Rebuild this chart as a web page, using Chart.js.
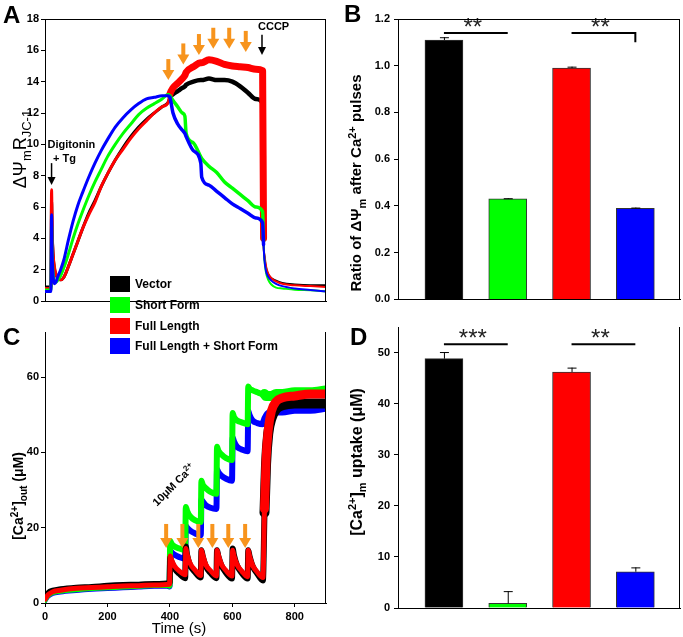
<!DOCTYPE html>
<html>
<head>
<meta charset="utf-8">
<script src="https://cdn.jsdelivr.net/npm/chart.js@4.4.1/dist/chart.umd.min.js"></script>
<style>
body { margin: 0; background: #fff; width: 683px; height: 637px; overflow: hidden; position: relative; }
canvas { position: absolute; display: block; }
#legend { position: absolute; left: 110px; top: 274px; font: bold 12px "Liberation Sans", Arial, sans-serif; color: #000; z-index: 5; }
#legend .row { height: 20.7px; display: flex; align-items: center; white-space: nowrap; }
#legend .sw { width: 20px; height: 16px; margin-right: 5px; }
</style>
</head>
<body>
<canvas id="chartA" width="340" height="310" style="left:0;top:0"></canvas>
<canvas id="chartB" width="343" height="310" style="left:340px;top:0"></canvas>
<canvas id="chartC" width="340" height="327" style="left:0;top:310px"></canvas>
<canvas id="chartD" width="343" height="327" style="left:340px;top:310px"></canvas>
<div id="legend"></div>
<script>
// groups / colours shared by all four panels
const groups = ["Vector", "Short Form", "Full Length", "Full Length + Short Form"];
const colors = ["#000000", "#00FF00", "#FF0000", "#0000FF"];

// panel A : delta psi_m (R JC-1) vs time
const timeA = [0, 10, 19, 21, 23, 26, 30, 35, 40, 50, 60, 75, 90, 105, 120, 140, 160, 180, 200, 225,
  250, 275, 300, 325, 350, 375, 395, 400, 410, 425, 440, 448, 452, 475, 499, 502, 525, 550, 575, 600,
  625, 650, 675, 697, 700, 703, 708, 715, 725, 740, 760, 800, 850, 900];
const vectorA = [0.9, 0.9, 0.9, 6.5, 4.3, 2.9, 2.1, 1.7, 1.5, 1.35, 1.5, 2.2, 3.0, 3.8, 4.6, 5.6, 6.4, 7.3, 8.1, 9.0,
  9.8, 10.5, 11.1, 11.6, 12.0, 12.4, 12.7, 13.0, 13.2, 13.4, 13.6, 13.7, 13.8, 14.0, 14.1, 14.1, 14.2, 14.1, 14.1, 14.0,
  13.7, 13.3, 12.9, 12.6, 4.0, 2.8, 2.1, 1.7, 1.45, 1.3, 1.15, 1.05, 1.0, 1.0];
const shortA = [0.7, 0.7, 0.7, 5.0, 3.0, 1.8, 1.3, 1.2, 1.3, 1.6, 2.1, 3.0, 4.0, 4.9, 5.7, 6.7, 7.6, 8.4, 9.2, 10.0,
  10.7, 11.3, 11.9, 12.3, 12.6, 12.9, 13.2, 13.1, 12.8, 12.4, 12.0, 11.8, 10.7, 10.1, 9.2, 9.1, 8.6, 8.2, 7.6, 7.2,
  6.8, 6.4, 6.0, 5.7, 3.8, 2.6, 1.8, 1.35, 1.05, 0.85, 0.8, 0.72, 0.68, 0.62];
const fullA = [0.8, 0.8, 0.8, 7.1, 4.5, 3.0, 2.2, 1.7, 1.5, 1.35, 1.5, 2.2, 3.0, 3.8, 4.6, 5.5, 6.3, 7.3, 8.1, 9.0,
  9.7, 10.4, 11.0, 11.5, 12.0, 12.4, 12.7, 13.2, 13.6, 13.9, 14.2, 14.4, 14.6, 14.95, 15.2, 15.2, 15.4, 15.3, 15.1, 15.0,
  14.95, 14.9, 14.8, 14.7, 4.0, 2.9, 2.2, 1.75, 1.45, 1.25, 1.1, 1.0, 0.95, 0.9];
const bothA = [0.6, 0.6, 0.6, 5.5, 3.0, 1.6, 1.1, 1.2, 1.5, 2.0, 2.6, 3.9, 5.1, 6.1, 6.9, 7.9, 8.8, 9.6, 10.3, 11.1,
  11.7, 12.2, 12.6, 12.9, 13.0, 13.1, 13.1, 13.0, 12.0, 11.3, 10.9, 10.7, 10.5, 9.6, 8.8, 7.9, 7.4, 7.0, 6.6, 6.2,
  5.9, 5.6, 5.3, 5.0, 3.6, 2.6, 1.9, 1.55, 1.3, 1.1, 0.95, 0.8, 0.7, 0.6];

// panel B : ratio of delta psi_m after Ca pulses
const ratioB = [1.11, 0.43, 0.99, 0.39];
const ratioErrB = [0.012, 0.003, 0.006, 0.003];

// panel C : [Ca2+]out (uM) vs time
const timeC = [0, 10, 25, 50, 100, 150, 200, 250, 300, 350, 399,
  401, 405, 415, 430, 449, 451, 455, 465, 480, 499, 501, 505, 515, 530, 549,
  551, 555, 565, 580, 599, 601, 605, 615, 630, 649, 651, 655, 665, 680, 698,
  703, 708, 715, 725, 740, 760, 800, 850, 900];
const vectorC = [1.5, 2.8, 3.4, 3.8, 4.2, 4.4, 4.7, 4.9, 5.0, 5.2, 5.4,
  12.0, 11.0, 9.2, 7.8, 6.6, 15.0, 12.8, 10.0, 8.3, 6.8, 14.0, 12.5, 9.8, 8.0, 6.6,
  14.0, 12.5, 10.0, 8.0, 6.5, 14.5, 12.8, 10.0, 8.0, 6.5, 14.0, 12.5, 9.8, 7.8, 6.0,
  24, 37, 45, 49, 51.5, 52.5, 53, 53, 53];
const shortC = [0.5, 1.8, 2.6, 3.0, 3.4, 3.7, 3.9, 4.1, 4.3, 4.5, 4.6,
  16.5, 15.8, 15.0, 14.5, 14.0, 25.5, 24.5, 23.0, 22.0, 21.5, 32.5, 31.5, 30.5, 29.5, 29.0,
  41.5, 40.5, 39.5, 38.5, 38.0, 50.5, 49.5, 48.5, 48.0, 47.5, 57.5, 57.0, 56.5, 56.0, 55.5,
  55.5, 55, 55, 55, 55.5, 55.5, 56, 56, 56.5];
const fullC = [1.0, 2.2, 3.0, 3.4, 3.9, 4.1, 4.3, 4.5, 4.6, 4.8, 5.0,
  12.5, 11.5, 9.8, 8.5, 7.5, 14.5, 13.0, 10.5, 8.8, 7.3, 14.0, 12.8, 10.2, 8.6, 7.2,
  14.0, 12.8, 10.3, 8.6, 7.2, 14.0, 12.6, 10.2, 8.5, 7.0, 14.0, 12.5, 10.0, 8.2, 6.8,
  25, 38, 46, 51, 53.5, 54.5, 55, 55.5, 55.5];
const bothC = [0.4, 1.6, 2.4, 2.8, 3.2, 3.5, 3.7, 3.9, 4.1, 4.3, 4.4,
  14.0, 13.5, 12.8, 12.2, 11.8, 20.5, 20.0, 19.2, 18.5, 18.0, 27.5, 27.0, 26.0, 25.3, 25.0,
  35.5, 34.8, 33.8, 33.0, 32.5, 44.0, 43.0, 41.5, 40.8, 40.3, 51.0, 50.0, 48.5, 47.8, 47.5,
  48, 49, 50, 50.5, 51, 51, 51.5, 51.5, 52];

// panel D : [Ca2+]m uptake (uM)
const uptakeD = [48.8, 0.9, 46.2, 7.1];
const uptakeErrD = [1.3, 2.4, 0.85, 0.85];

const FONT = '"Liberation Sans", Arial, sans-serif';
function font(size, weight) { return (weight || 'normal') + ' ' + size + 'px ' + FONT; }
const tickFont = { family: FONT, size: 11, weight: 'bold' };

// draws text with sub/superscripts, (x,y) = centre of the main text
function drawRich(ctx, parts, x, y, rot, size, weight, align) {
  const small = Math.round(size * 0.7);
  ctx.save();
  ctx.translate(x, y);
  ctx.rotate(rot);
  let w = 0;
  parts.forEach(p => {
    ctx.font = font(p.s ? small : size, weight);
    p.w = ctx.measureText(p.t).width;
    w += p.w;
  });
  let cx = align === 'left' ? 0 : -w / 2;
  const base = align === 'left' ? 0 : size * 0.36;
  ctx.fillStyle = '#000';
  ctx.textBaseline = 'alphabetic';
  ctx.textAlign = 'left';
  parts.forEach(p => {
    ctx.font = font(p.s ? small : size, weight);
    const dy = p.s === 'sub' ? size * 0.28 : p.s === 'sup' ? -size * 0.38 : 0;
    ctx.fillText(p.t, cx, base + dy);
    cx += p.w;
  });
  ctx.restore();
}

function arrow(ctx, x, yTop, yTip, color, shaft, headW, headL) {
  ctx.save();
  ctx.fillStyle = color;
  ctx.strokeStyle = color;
  ctx.lineWidth = shaft;
  ctx.beginPath();
  ctx.moveTo(x, yTop);
  ctx.lineTo(x, yTip - headL + 1);
  ctx.stroke();
  ctx.beginPath();
  ctx.moveTo(x - headW / 2, yTip - headL);
  ctx.lineTo(x + headW / 2, yTip - headL);
  ctx.lineTo(x, yTip);
  ctx.closePath();
  ctx.fill();
  ctx.restore();
}

// box lines that SigmaPlot draws on top / right
const framePlugin = {
  id: 'frame',
  afterDraw(chart, args, opts) {
    const { ctx, chartArea: a } = chart;
    ctx.save();
    ctx.strokeStyle = '#000';
    ctx.lineWidth = 1;
    ctx.beginPath();
    if (opts.top) { ctx.moveTo(a.left, a.top + 0.5); ctx.lineTo(a.right, a.top + 0.5); }
    ctx.moveTo(a.right - 0.5, a.top); ctx.lineTo(a.right - 0.5, a.bottom);
    ctx.stroke();
    ctx.restore();
  }
};

// axis titles and panel letter
const labelPlugin = {
  id: 'labels',
  afterDraw(chart, args, opts) {
    const ctx = chart.ctx;
    (opts.items || []).forEach(it => drawRich(ctx, it.parts, it.x, it.y, it.rot || 0, it.size, it.weight));
    if (opts.letter) {
      ctx.save();
      ctx.font = font(24, 'bold');
      ctx.fillStyle = '#000';
      ctx.fillText(opts.letter.t, opts.letter.x, opts.letter.y);
      ctx.restore();
    }
  }
};

// noise band of the raw traces is imitated with a wider stroke
function band(w) {
  return c => {
    const t = c.p0.parsed.x;
    return t < 399 ? w[0] : (t < 699 ? w[1] : w[2]);
  };
}

function traces(time, series, widths, order) {
  return series.map((vals, i) => ({
    label: groups[i],
    data: time.map((t, k) => ({ x: t, y: vals[k] })),
    borderColor: colors[i],
    borderWidth: widths[i][0],
    segment: { borderWidth: band(widths[i]) },
    pointRadius: 0,
    fill: false,
    cubicInterpolationMode: 'monotone',
    borderJoinStyle: 'round',
    borderCapStyle: 'round',
    order: order[i]
  }));
}

const baseOpts = {
  responsive: false,
  animation: false,
  devicePixelRatio: 1,
  events: []
};

// ---------- panel A ----------
const pulseA = { t: [395, 443, 493, 539, 590, 643], tip: [14.1, 15.1, 15.7, 16.1, 16.1, 15.9] };
new Chart(document.getElementById('chartA'), {
  type: 'line',
  data: { datasets: traces(timeA, [vectorA, shortA, fullA, bothA],
    [[3, 4.5, 2], [3, 3.5, 2], [3, 7, 2], [3, 3.5, 2]], [4, 2, 3, 1]) },
  options: Object.assign({}, baseOpts, {
    layout: { padding: { top: 19, right: 14, left: 0, bottom: 0 }, autoPadding: false },
    plugins: {
      legend: { display: false },
      tooltip: { enabled: false },
      frame: { top: true },
      labels: {
        items: [{ parts: [{ t: 'ΔΨ' }, { t: 'm', s: 'sub' }, { t: 'R' }, { t: 'JC-1', s: 'sub' }], x: 19.5, y: 149, rot: -Math.PI / 2, size: 18, weight: 'normal' }],
        letter: { t: 'A', x: 3, y: 23 }
      }
    },
    scales: {
      x: {
        type: 'linear', min: 0, max: 900,
        ticks: { display: false },
        grid: { drawOnChartArea: false, drawTicks: false },
        border: { color: '#000', width: 1 },
        afterFit: s => { s.height = 9; }
      },
      y: {
        min: 0, max: 18,
        ticks: { stepSize: 2, color: '#000', font: tickFont, padding: 2 },
        grid: { drawOnChartArea: false, tickLength: 4, color: '#000' },
        border: { color: '#000', width: 1 },
        afterFit: s => { s.width = 45; }
      }
    }
  }),
  plugins: [framePlugin, labelPlugin, {
    id: 'notesA',
    afterDraw(chart) {
      const { ctx, scales: { x, y } } = chart;
      pulseA.t.forEach((t, i) => {
        const px = x.getPixelForValue(t), tip = y.getPixelForValue(pulseA.tip[i]);
        arrow(ctx, px, tip - 21, tip, '#F7941D', 4, 12, 10);
      });
      const dx = x.getPixelForValue(21), dTop = y.getPixelForValue(8.8);
      arrow(ctx, dx, dTop, y.getPixelForValue(7.4), '#000', 1.5, 8, 8);
      const cx = x.getPixelForValue(695), cTop = y.getPixelForValue(17.0);
      arrow(ctx, cx, cTop, y.getPixelForValue(15.7), '#000', 1.5, 8, 8);
      ctx.save();
      ctx.font = font(11, 'bold');
      ctx.fillStyle = '#000';
      ctx.fillText('Digitonin', dx - 4, dTop - 15);
      ctx.fillText('+ Tg', dx + 1.5, dTop - 1);
      ctx.fillText('CCCP', cx - 4, cTop - 5);
      ctx.restore();
    }
  }]
});

// ---------- bar panels ----------
const barPlugin = {
  id: 'extras',
  afterDatasetsDraw(chart, args, opts) {
    const { ctx, scales: { y } } = chart;
    const meta = chart.getDatasetMeta(0);
    const vals = chart.data.datasets[0].data.map(d => d.y);
    ctx.save();
    ctx.strokeStyle = '#000';
    ctx.lineWidth = 1;
    opts.err.forEach((e, i) => {
      const bx = meta.data[i].x, top = y.getPixelForValue(vals[i] + e), yb = y.getPixelForValue(vals[i]);
      ctx.beginPath();
      ctx.moveTo(bx + 0.5, yb); ctx.lineTo(bx + 0.5, top);
      ctx.moveTo(bx - 4, top + 0.5); ctx.lineTo(bx + 5, top + 0.5);
      ctx.stroke();
    });
    opts.sig.forEach(s => {
      const x1 = meta.data[s.from].x, x2 = meta.data[s.to].x, ly = y.getPixelForValue(s.at);
      ctx.lineWidth = 2;
      ctx.beginPath();
      ctx.moveTo(x1, ly); ctx.lineTo(x2, ly);
      if (s.drop !== undefined) ctx.lineTo(x2, y.getPixelForValue(s.drop));
      ctx.stroke();
      ctx.font = font(24, 'normal');
      ctx.fillStyle = '#222';
      ctx.textAlign = 'center';
      ctx.fillText(s.stars, (x1 + x2) / 2 - 3, ly + 2);
    });
    ctx.restore();
  }
};

function barData(vals) {
  return {
    datasets: [{
      data: vals.map((v, i) => ({ x: i + 1, y: v })),
      backgroundColor: colors,
      borderColor: '#333',
      borderWidth: 1,
      barThickness: 38
    }]
  };
}

function barScales(yMax, step, fmt, xHeight) {
  return {
    x: {
      type: 'linear', min: 0.28, max: 4.7, offset: false,
      ticks: { display: false },
      grid: { drawOnChartArea: false, drawTicks: false, offset: false },
      border: { color: '#000', width: 1 },
      afterFit: s => { s.height = xHeight; }
    },
    y: {
      min: 0, max: yMax,
      ticks: { stepSize: step, includeBounds: false, color: '#000', font: tickFont, padding: 4, callback: fmt },
      grid: { drawOnChartArea: false, tickLength: 4, color: '#000' },
      border: { color: '#000', width: 1 },
      afterFit: s => { s.width = 58; }
    }
  };
}

new Chart(document.getElementById('chartB'), {
  type: 'bar',
  data: barData(ratioB),
  options: Object.assign({}, baseOpts, {
    layout: { padding: { top: 19, right: 3, left: 0, bottom: 0 }, autoPadding: false },
    plugins: {
      legend: { display: false },
      tooltip: { enabled: false },
      frame: { top: true },
      extras: { err: ratioErrB, sig: [{ from: 0, to: 1, at: 1.14, stars: '**' }, { from: 2, to: 3, at: 1.14, drop: 1.10, stars: '**' }] },
      labels: {
        items: [{ parts: [{ t: 'Ratio of ΔΨ' }, { t: 'm', s: 'sub' }, { t: ' after Ca' }, { t: '2+', s: 'sup' }, { t: ' pulses' }], x: 16, y: 183, rot: -Math.PI / 2, size: 15, weight: 'bold' }],
        letter: { t: 'B', x: 4, y: 22 }
      }
    },
    scales: barScales(1.2, 0.2, v => v.toFixed(1), 9)
  }),
  plugins: [framePlugin, labelPlugin, barPlugin]
});

// ---------- panel C ----------
const pulseC = [388, 440, 491, 536, 587, 641];
new Chart(document.getElementById('chartC'), {
  type: 'line',
  data: { datasets: traces(timeC, [vectorC, shortC, fullC, bothC],
    [[5, 6, 10], [4, 6, 10], [5, 5, 9], [4, 6, 9]], [2, 3, 1, 4]) },
  options: Object.assign({}, baseOpts, {
    layout: { padding: { top: 22, right: 14, left: 0, bottom: 0 }, autoPadding: false },
    plugins: {
      legend: { display: false },
      tooltip: { enabled: false },
      frame: { top: false },
      labels: {
        items: [
          { parts: [{ t: '[Ca' }, { t: '2+', s: 'sup' }, { t: ']' }, { t: 'out', s: 'sub' }, { t: ' (μM)' }], x: 18, y: 186, rot: -Math.PI / 2, size: 14, weight: 'bold' },
          { parts: [{ t: 'Time (s)' }], x: 179, y: 318, rot: 0, size: 15, weight: 'normal' }
        ],
        letter: { t: 'C', x: 3, y: 35 }
      }
    },
    scales: {
      x: {
        type: 'linear', min: 0, max: 900,
        ticks: { stepSize: 200, includeBounds: false, color: '#000', font: tickFont, padding: 3, maxRotation: 0 },
        grid: { drawOnChartArea: false, tickLength: 4, color: '#000' },
        border: { color: '#000', width: 1 },
        afterFit: s => { s.height = 34; }
      },
      y: {
        min: 0, max: 72,
        ticks: { stepSize: 20, includeBounds: false, color: '#000', font: tickFont, padding: 2 },
        grid: { drawOnChartArea: false, tickLength: 4, color: '#000' },
        border: { color: '#000', width: 1 },
        afterFit: s => { s.width = 45; }
      }
    }
  }),
  plugins: [framePlugin, labelPlugin, {
    id: 'notesC',
    afterDraw(chart) {
      const { ctx, scales: { x, y } } = chart;
      pulseC.forEach(t => {
        arrow(ctx, x.getPixelForValue(t), y.getPixelForValue(21), y.getPixelForValue(14.6), '#F7941D', 4, 12, 10);
      });
      drawRich(ctx, [{ t: '10μM Ca' }, { t: '2+', s: 'sup' }], x.getPixelForValue(359), y.getPixelForValue(25.6), -Math.PI / 4, 11, 'bold', 'left');
    }
  }]
});

// ---------- panel D ----------
new Chart(document.getElementById('chartD'), {
  type: 'bar',
  data: barData(uptakeD),
  options: Object.assign({}, baseOpts, {
    layout: { padding: { top: 17, right: 3, left: 0, bottom: 0 }, autoPadding: false },
    plugins: {
      legend: { display: false },
      tooltip: { enabled: false },
      frame: { top: false },
      extras: { err: uptakeErrD, sig: [{ from: 0, to: 1, at: 51.6, stars: '***' }, { from: 2, to: 3, at: 51.6, stars: '**' }] },
      labels: {
        items: [{ parts: [{ t: '[Ca' }, { t: '2+', s: 'sup' }, { t: ']' }, { t: 'm', s: 'sub' }, { t: ' uptake (μM)' }], x: 16, y: 152, rot: -Math.PI / 2, size: 16, weight: 'bold' }],
        letter: { t: 'D', x: 10, y: 35 }
      }
    },
    scales: barScales(55, 10, v => v, 29)
  }),
  plugins: [framePlugin, labelPlugin, barPlugin]
});

// legend (HTML, built from the same group arrays)
const legend = document.getElementById('legend');
groups.forEach((g, i) => {
  const row = document.createElement('div');
  row.className = 'row';
  const sw = document.createElement('span');
  sw.className = 'sw';
  sw.style.background = colors[i];
  const tx = document.createElement('span');
  tx.textContent = g;
  row.appendChild(sw);
  row.appendChild(tx);
  legend.appendChild(row);
});
</script>
</body>
</html>
